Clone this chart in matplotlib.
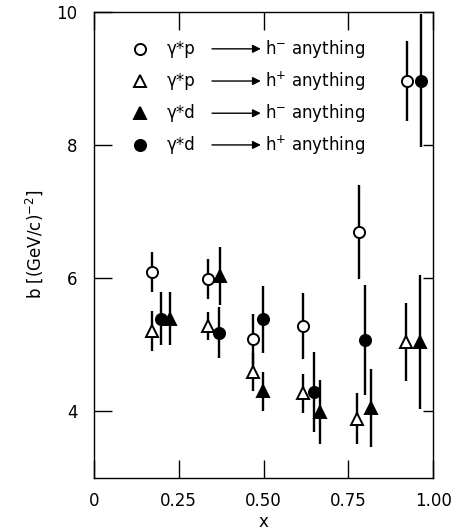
import numpy as np
import matplotlib
matplotlib.use("Agg")
import matplotlib.pyplot as plt

# gamma* p -> h- anything (open circles)
x_p_hm = [0.170, 0.337, 0.470, 0.617, 0.782, 0.922]
b_p_hm = [6.09, 5.99, 5.08, 5.28, 6.69, 8.96]
e_p_hm = [0.30, 0.30, 0.38, 0.50, 0.70, 0.60]

# gamma* p -> h+ anything (open triangles)
x_p_hp = [0.170, 0.337, 0.470, 0.615, 0.777, 0.920]
b_p_hp = [5.20, 5.28, 4.59, 4.27, 3.89, 5.04]
e_p_hp = [0.30, 0.21, 0.28, 0.29, 0.38, 0.58]

# gamma* d -> h- anything (filled triangles)
x_d_hm = [0.224, 0.372, 0.498, 0.667, 0.817, 0.962]
b_d_hm = [5.39, 6.03, 4.30, 3.99, 4.05, 5.04]
e_d_hm = [0.40, 0.43, 0.29, 0.48, 0.58, 1.00]

# gamma* d -> h+ anything (filled circles)
x_d_hp = [0.198, 0.370, 0.498, 0.649, 0.799, 0.964]
b_d_hp = [5.39, 5.18, 5.38, 4.29, 5.07, 8.96]
e_d_hp = [0.40, 0.38, 0.50, 0.60, 0.83, 1.00]

targets = ["p", "p", "d", "d"]
hadrons = ["-", "+", "-", "+"]
xticks = [0, 0.25, 0.50, 0.75, 1.00]
xticklabels = ["0", "0.25", "0.50", "0.75", "1.00"]
yticks = [4, 6, 8, 10]

series = [
    (x_p_hm, b_p_hm, e_p_hm, "o", "white"),
    (x_p_hp, b_p_hp, e_p_hp, "^", "white"),
    (x_d_hm, b_d_hm, e_d_hm, "^", "black"),
    (x_d_hp, b_d_hp, e_d_hp, "o", "black"),
]

plt.rcParams['font.family'] = ['DejaVu Sans']
fig = plt.figure(figsize=(4.53, 5.31), dpi=100)
ax = fig.add_axes([0.2075, 0.0998, 0.7485, 0.8785])

for x, y, e, m, fc in series:
    ax.errorbar(x, y, yerr=e, fmt='none', ecolor='black', elinewidth=1.7, capsize=0, zorder=2)
    ms = 8 if m == "o" else 9
    ax.plot(x, y, linestyle='None', marker=m, markersize=ms, markerfacecolor=fc,
            markeredgecolor='black', markeredgewidth=1.4, zorder=3)

# hand-made legend with arrows
rows = [0.920, 0.851, 0.782, 0.714]
for (x, y, e, m, fc), tgt, h, ry in zip(series, targets, hadrons, rows):
    ms = 8 if m == "o" else 9
    ax.plot([0.136], [ry], transform=ax.transAxes, linestyle='None', marker=m,
            markersize=ms, markerfacecolor=fc, markeredgecolor='black',
            markeredgewidth=1.4, clip_on=False)
    ax.text(0.215, ry, "\u03b3*" + tgt, transform=ax.transAxes, fontsize=12,
            va='center', ha='left')
    ax.annotate("", xy=(0.492, ry), xytext=(0.348, ry), xycoords=ax.transAxes,
                textcoords=ax.transAxes,
                arrowprops=dict(arrowstyle='-|>', color='black', lw=1.0,
                                mutation_scale=12, shrinkA=0, shrinkB=0))
    ax.text(0.504, ry, "h$^{" + h + "}$ anything", transform=ax.transAxes,
            fontsize=12, va='center', ha='left')

ax.set_xlim(0, 1.0)
ax.set_ylim(3, 10)
ax.set_xticks(xticks)
ax.set_xticklabels(xticklabels)
ax.set_yticks(yticks)
ax.tick_params(axis='both', direction='in', length=13, width=1.0, labelsize=12,
               top=True, right=True)
ax.tick_params(axis='x', pad=10)
ax.tick_params(axis='y', pad=12)
# right-hand ticks are shorter in the original
for t in ax.yaxis.get_major_ticks():
    t.tick2line.set_markersize(7)
for s in ax.spines.values():
    s.set_linewidth(1.0)

ax.set_xlabel("x", fontsize=12, labelpad=2)
ax.set_ylabel(r"b $\left[\mathrm{(GeV/c)}^{-2}\right]$", fontsize=12, labelpad=8)

fig.savefig("out.png", dpi=100)
